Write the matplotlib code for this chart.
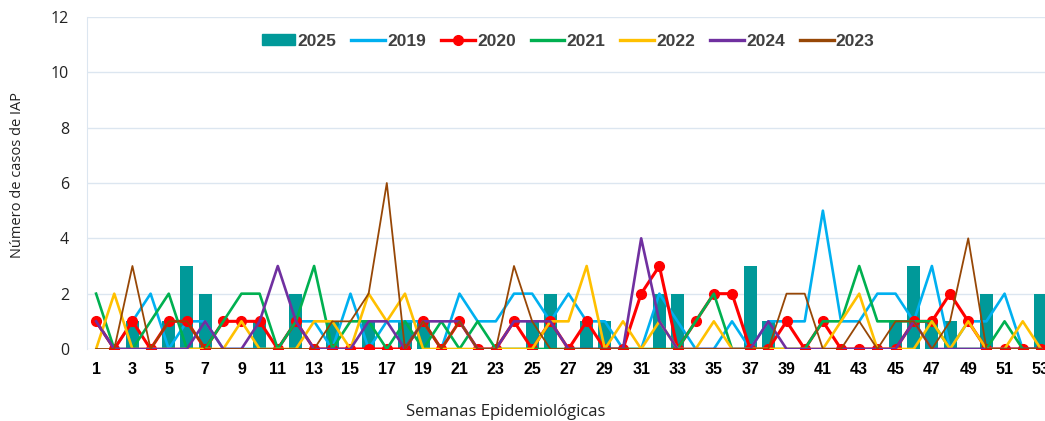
import matplotlib
matplotlib.use("Agg")
from matplotlib import pyplot as plt
from matplotlib.patches import Patch
from matplotlib.lines import Line2D

# semanas epidemiologicas 1..53
semanas = list(range(1, 54))

casos_2025 = [0, 0, 1, 0, 1, 3, 2, 0, 0, 1, 0, 2, 0, 1, 0, 1, 0, 1, 1, 0,
              0, 0, 0, 0, 1, 2, 0, 1, 1, 0, 0, 2, 2, 0, 0, 0, 3, 1, 0, 0,
              0, 0, 0, 0, 1, 3, 1, 1, 0, 2, 0, 0, 2]
casos_2019 = [1, 0, 1, 2, 0, 1, 1, 0, 0, 0, 0, 1, 1, 0, 2, 0, 1, 1, 1, 0,
              2, 1, 1, 2, 2, 1, 2, 1, 1, 0, 0, 2, 1, 0, 0, 1, 0, 1, 1, 1,
              5, 1, 1, 2, 2, 1, 3, 0, 1, 1, 2, 0, 0]
casos_2020 = [1, 0, 1, 0, 1, 1, 0, 1, 1, 1, 0, 1, 0, 0, 0, 0, 0, 0, 1, 0,
              1, 0, 0, 1, 0, 1, 0, 1, 0, 0, 2, 3, 0, 1, 2, 2, 0, 0, 1, 0,
              1, 0, 0, 0, 0, 1, 1, 2, 1, 0, 0, 0, 0]
casos_2021 = [2, 0, 0, 1, 2, 0, 0, 1, 2, 2, 0, 1, 3, 0, 1, 1, 0, 1, 0, 1,
              0, 1, 0, 0, 0, 0, 0, 0, 0, 0, 0, 0, 0, 1, 2, 0, 0, 0, 0, 0,
              1, 1, 3, 1, 1, 1, 1, 0, 0, 0, 1, 0, 0]
casos_2022 = [0, 2, 0, 0, 0, 0, 0, 0, 1, 0, 0, 0, 1, 1, 0, 2, 1, 2, 0, 0,
              0, 0, 0, 0, 0, 1, 1, 3, 0, 1, 0, 1, 0, 0, 1, 0, 0, 0, 0, 0,
              0, 1, 2, 0, 0, 0, 1, 0, 1, 0, 0, 1, 0]
casos_2024 = [1, 0, 0, 0, 0, 0, 1, 0, 0, 1, 3, 1, 0, 0, 0, 1, 1, 0, 1, 1,
              1, 0, 0, 1, 1, 1, 0, 0, 0, 0, 4, 1, 0, 0, 0, 0, 0, 1, 0, 0,
              0, 0, 0, 0, 0, 1, 0, 0, 0, 0, 0, 0, 0]
casos_2023 = [0, 0, 3, 0, 1, 1, 0, 0, 0, 0, 0, 0, 0, 1, 1, 2, 6, 0, 1, 0,
              1, 0, 0, 3, 1, 0, 0, 0, 0, 0, 0, 0, 0, 0, 0, 0, 0, 0, 2, 2,
              0, 0, 1, 0, 1, 1, 0, 1, 4, 0, 0, 0, 0]

# etiquetas y colores
anios = ["2025", "2019", "2020", "2021", "2022", "2024", "2023"]
colores = {"2025": "#009999", "2019": "#00B0F0", "2020": "#FF0000",
           "2021": "#00B050", "2022": "#FFC000", "2024": "#7030A0",
           "2023": "#974706"}

fig = plt.figure(figsize=(10.45, 4.21), dpi=100)
ax = fig.add_axes([87/1045, 72/421, 963/1045, 332/421])

ax.bar(semanas, casos_2025, width=0.72, color=colores["2025"], zorder=2)
ax.plot(semanas, casos_2019, color=colores["2019"], lw=1.9, zorder=3)
ax.plot(semanas, casos_2020, color=colores["2020"], lw=2.2, marker="o",
        markersize=7, zorder=3)
ax.plot(semanas, casos_2021, color=colores["2021"], lw=1.9, zorder=3)
ax.plot(semanas, casos_2022, color=colores["2022"], lw=1.9, zorder=3)
ax.plot(semanas, casos_2024, color=colores["2024"], lw=1.9, zorder=3)
ax.plot(semanas, casos_2023, color=colores["2023"], lw=1.3, zorder=3)

ax.set_xlim(0.5, 53.5)
ax.set_ylim(0, 12)
ax.set_yticks(range(0, 13, 2))
ax.set_xticks(semanas[::2])
ax.set_xticklabels([str(s) for s in semanas[::2]], fontweight="bold",
                   fontsize=11.5, family=["Liberation Sans Narrow", "Liberation Sans"])
for t in ax.get_yticklabels():
    t.set_family("Open Sans")
    t.set_fontsize(11.5)
    t.set_color("#222222")
ax.tick_params(axis="both", length=0)
ax.tick_params(axis="x", pad=9)
ax.tick_params(axis="y", pad=13)

ax.grid(axis="y", color="#DCE6F0", lw=1, zorder=0)
for s in ["top", "right", "bottom"]:
    ax.spines[s].set_visible(False)
ax.spines["left"].set_color("#DCE6F0")

fig.text(18/1045, 1 - 175/421, "Número de casos de IAP", rotation=90,
         ha="center", va="center", fontsize=10.5, family="Open Sans", color="#222222")
fig.text(506/1045, 1 - 412/421, "Semanas Epidemiológicas", ha="center",
         va="center", fontsize=12, family="Open Sans", color="#222222")

handles = [Patch(color=colores["2025"])]
for a in anios[1:]:
    if a == "2020":
        handles.append(Line2D([], [], color=colores[a], lw=2.4, marker="o", markersize=7))
    else:
        handles.append(Line2D([], [], color=colores[a], lw=2.4))
leg = fig.legend(handles, anios, loc="center", bbox_to_anchor=(568/1045, 1 - 41/421),
                 ncol=7, frameon=False, handlelength=1.95, handleheight=0.55,
                 handletextpad=0.12, columnspacing=0.86,
                 prop={"weight": "bold", "size": 12.5, "family": "Liberation Sans"})
for t in leg.get_texts():
    t.set_color("#404040")

fig.savefig("out.png", dpi=100)
